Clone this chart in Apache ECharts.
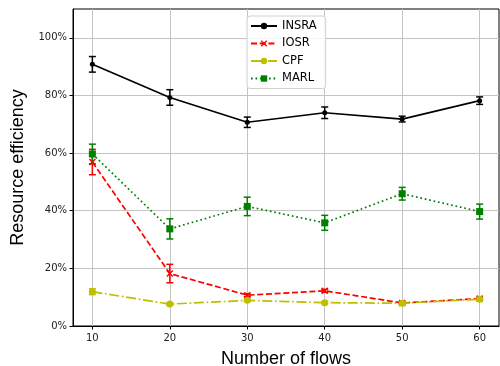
<!DOCTYPE html>
<html><head><meta charset="utf-8">
<script src="https://cdn.jsdelivr.net/npm/echarts@6/dist/echarts.min.js"></script>
<style>html,body{margin:0;padding:0;background:#fff}#c{width:500px;height:366px}</style>
</head><body><div id="c"></div>
<script>
var flows = [10, 20, 30, 40, 50, 60];
var xTicks = [10, 20, 30, 40, 50, 60];
var yTicks = [0, 20, 40, 60, 80, 100];
var insra = [90.8, 79.3, 70.7, 74.0, 71.8, 78.2];
var insraErr = [2.7, 2.7, 1.8, 2.0, 1.0, 1.3];
var iosr = [56.9, 18.2, 10.7, 12.2, 8.0, 9.5];
var iosrErr = [4.4, 3.2, 0.5, 0.5, 0.4, 0.4];
var cpf = [11.9, 7.6, 8.9, 8.1, 7.9, 9.3];
var cpfErr = [1.0, 0.4, 0.4, 0.4, 0.4, 0.4];
var marl = [59.7, 33.7, 41.5, 35.8, 45.9, 39.7];
var marlErr = [3.4, 3.5, 3.2, 2.6, 2.2, 2.6];

var FONT = 'DejaVu Sans';
var LFONT = 'Liberation Sans';
var xSym = 'path://M0,1.5L1.5,0L5,3.5L8.5,0L10,1.5L6.5,5L10,8.5L8.5,10L5,6.5L1.5,10L0,8.5L3.5,5Z';

function pairs(ys) { return flows.map(function (x, i) { return [x, ys[i]]; }); }
function triples(ys, es) { return flows.map(function (x, i) { return [x, ys[i], es[i]]; }); }
function errRender(color) {
  return function (params, api) {
    var x = api.value(0), y = api.value(1), e = api.value(2);
    var t = api.coord([x, y + e]), b = api.coord([x, y - e]);
    var c = 3.5, st = { stroke: color, lineWidth: 1.5 };
    return { type: 'group', children: [
      { type: 'line', shape: { x1: t[0], y1: t[1], x2: b[0], y2: b[1] }, style: st },
      { type: 'line', shape: { x1: t[0] - c, y1: t[1], x2: t[0] + c, y2: t[1] }, style: st },
      { type: 'line', shape: { x1: b[0] - c, y1: b[1], x2: b[0] + c, y2: b[1] }, style: st }
    ]};
  };
}
function lineSeries(name, ys, color, dash, symbol, size) {
  return { name: name, type: 'line', data: pairs(ys), symbol: symbol, symbolSize: size,
    showAllSymbol: true, z: 3,
    lineStyle: { color: color, width: 1.7, type: dash },
    itemStyle: { color: color }, emphasis: { disabled: true } };
}
function errSeries(name, ys, es, color) {
  return { name: name + '_err', type: 'custom', data: triples(ys, es), renderItem: errRender(color), z: 2 };
}

var cK = '#000000', cR = '#ff0000', cY = '#bfbf00', cG = '#008000';
var chart = echarts.init(document.getElementById('c'), null, { renderer: 'canvas' });
chart.setOption({
  animation: false,
  grid: { left: 73, right: 1, top: 9, bottom: 40, outerBoundsMode: 'none', containLabel: false,
    show: true, borderColor: '#000', borderWidth: 1, backgroundColor: 'transparent' },
  legend: {
    data: ['INSRA', 'IOSR', 'CPF', 'MARL'], orient: 'vertical', left: 247, top: 16,
    itemWidth: 26, itemHeight: 8, itemGap: 5.5, padding: [4, 9, 4, 3],
    borderColor: '#d0d0d0', borderWidth: 1, borderRadius: 3, backgroundColor: 'rgba(255,255,255,0.85)',
    textStyle: { fontFamily: FONT, fontSize: 11.5, color: '#000' }
  },
  xAxis: {
    type: 'value', min: 7.5, max: 62.5,
    name: 'Number of flows', nameLocation: 'middle', nameGap: 24,
    nameTextStyle: { fontFamily: LFONT, fontSize: 18, color: '#000' },
    axisLine: { show: true, lineStyle: { color: '#000' } },
    axisTick: { show: true, customValues: xTicks, length: 3.5, lineStyle: { color: '#000' } },
    axisLabel: { customValues: xTicks, fontFamily: FONT, fontSize: 10, color: '#222', margin: 7 },
    splitLine: { show: true, lineStyle: { color: '#c4c4c4', width: 1 } }
  },
  yAxis: {
    type: 'value', min: 0, max: 110, interval: 20,
    name: 'Resource efficiency', nameLocation: 'middle', nameGap: 45,
    nameTextStyle: { fontFamily: LFONT, fontSize: 18, color: '#000' },
    axisLine: { show: true, lineStyle: { color: '#000' } },
    axisTick: { show: true, customValues: yTicks, length: 3.5, lineStyle: { color: '#000' } },
    axisLabel: { customValues: yTicks, formatter: '{value}%', fontFamily: FONT, fontSize: 10, color: '#222', margin: 6 },
    splitLine: { show: true, lineStyle: { color: '#c4c4c4', width: 1 } }
  },
  series: [
    lineSeries('INSRA', insra, cK, 'solid', 'circle', 5),
    lineSeries('IOSR', iosr, cR, [6, 2.7], xSym, 7),
    lineSeries('CPF', cpf, cY, [10, 2.7, 1.7, 2.7], 'circle', 7),
    lineSeries('MARL', marl, cG, [1.7, 2.8], 'rect', 7),
    errSeries('INSRA', insra, insraErr, cK),
    errSeries('IOSR', iosr, iosrErr, cR),
    errSeries('CPF', cpf, cpfErr, cY),
    errSeries('MARL', marl, marlErr, cG)
  ]
});
</script></body></html>
